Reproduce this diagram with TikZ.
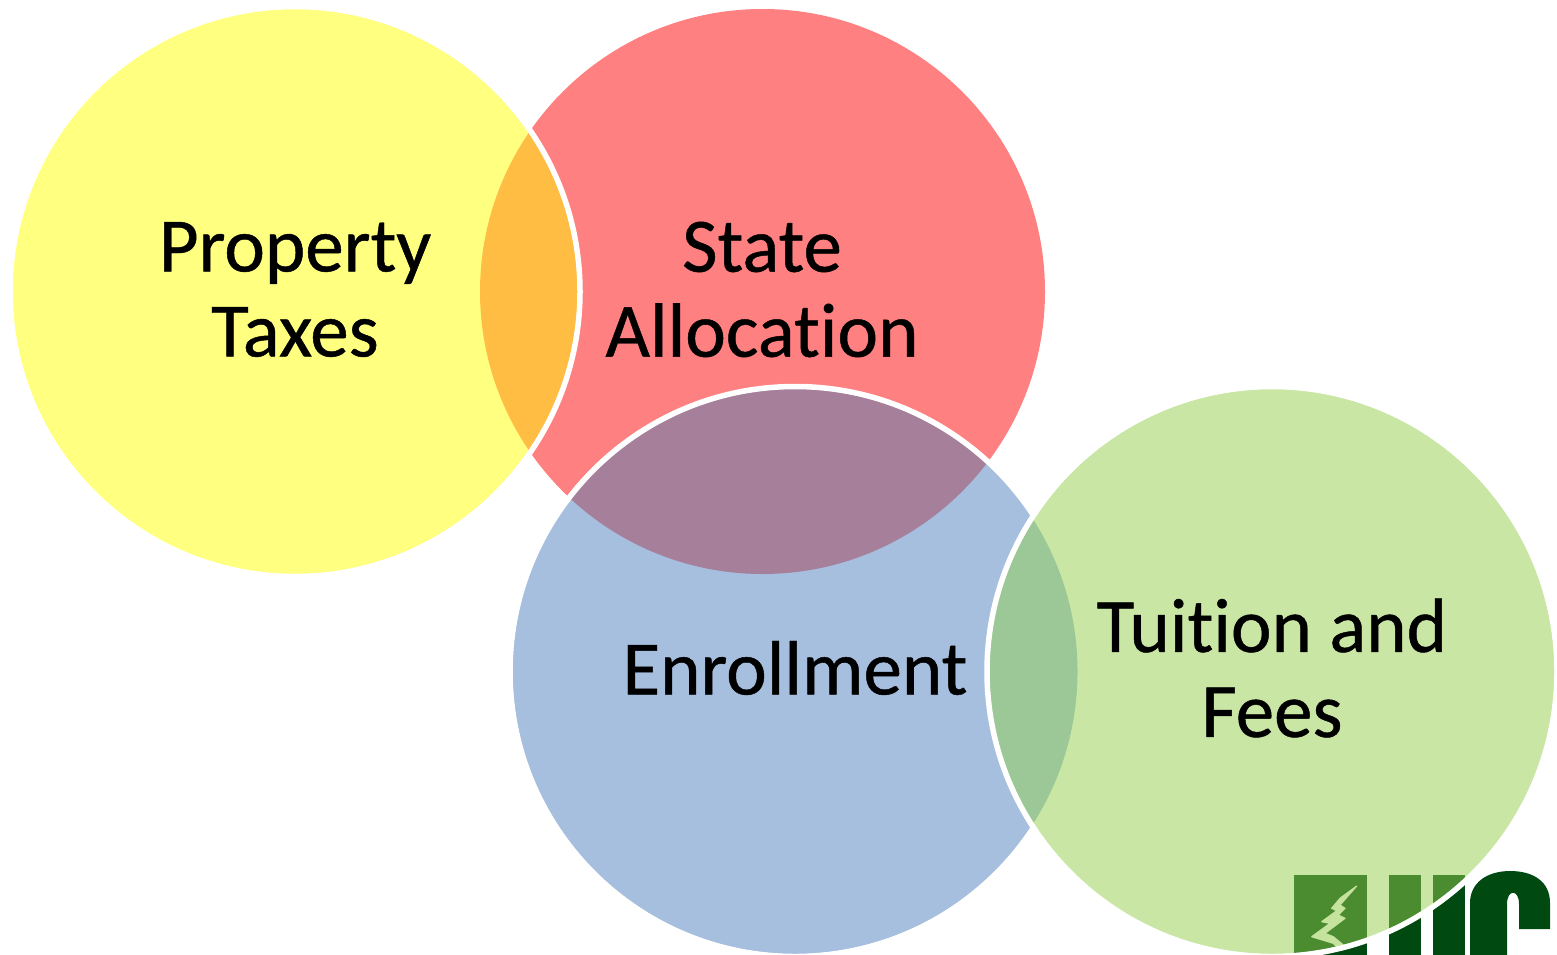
\documentclass[tikz,border=0pt]{standalone}
\usepackage{fontspec}
\setmainfont{Carlito}[Ligatures=NoCommon,FakeBold=0.6]
\definecolor{cyellow}{HTML}{FFFF80}
\definecolor{cred}{HTML}{FF8080}
\definecolor{cblue}{HTML}{A7BFDE}
\definecolor{cgreen}{HTML}{C9E6A5}
\definecolor{corange}{HTML}{FFBD44}
\definecolor{cpurple}{HTML}{A67F9B}
\definecolor{csage}{HTML}{9CC797}
\definecolor{logodark}{HTML}{004A12}
\definecolor{logomid}{HTML}{4A8C2F}
\definecolor{logobolt}{HTML}{C5E39C}
\tikzset{
  lbl/.style={font=\fontsize{77}{85}\selectfont,align=center,text=black,inner sep=0pt},
  ring/.style={draw=white,line width=5.5pt}
}
\def\R{282.5}
\newcommand{\logoshapes}[1]{%
  \fill[#1] (1294,875) rectangle (1367,960);
  \fill[#1] (1389,875) rectangle (1421,960);
  \fill[#1] (1433,875) rectangle (1465,960);
}
\begin{document}
\begin{tikzpicture}[x=1pt,y=-1pt]
\useasboundingbox (0,0) rectangle (1557,954);
\begin{scope}
\clip (0,0) rectangle (1557,954);
\coordinate (py) at (295,291.5);
\coordinate (sa) at (762.5,291.5);
\coordinate (en) at (795,671.5);
\coordinate (tf) at (1272,671.5);
% logo beneath the green disc
\logoshapes{logodark}
\path[fill=logodark]
  (1470,960) -- (1470,903) .. controls (1470,882) and (1488,871) .. (1510,871)
  .. controls (1534,871) and (1550,882) .. (1550,903) -- (1550,929) -- (1519,929)
  -- (1519,904) .. controls (1519,889) and (1507,889) .. (1507,904) -- (1507,960) -- cycle;
% discs and lenses
\fill[cred] (sa) circle (\R);
\fill[cyellow] (py) circle (\R);
\begin{scope}\clip (py) circle (\R); \fill[corange] (sa) circle (\R);\end{scope}
\draw[ring] (py) circle (\R+2.5);
\fill[cblue] (en) circle (\R);
\begin{scope}\clip (en) circle (\R); \fill[cpurple] (sa) circle (\R);\end{scope}
\draw[ring] (en) circle (\R+2.5);
\fill[cgreen] (tf) circle (\R);
\begin{scope}\clip (tf) circle (\R);
  \fill[csage] (en) circle (\R);
  \logoshapes{logomid}
  \filldraw[logobolt,line width=1.2pt,line join=round] (1356.7,886) -- (1340,898.3) -- (1331.7,908.3) -- (1336.7,910.7)
     -- (1321.7,921.7) -- (1330,923.3) -- (1311.7,936.7) -- (1333.3,943.3)
     -- (1340,950) -- (1343.3,945) -- (1333.3,936.7) -- (1325,933.3)
     -- (1345,918.3) -- (1338.3,915) -- (1345,908.3) -- (1340,905) -- cycle;
\end{scope}
\draw[ring] (tf) circle (\R+2.5);
\end{scope}
% labels
\node[lbl] (ptx) at (295,289.5) {Property\\Taxes};
\node[lbl] (sal) at (762,289.5) {State\\Allocation};
\node[lbl] (enr) at (795,668) {Enrollment};
\node[lbl] (tui) at (1272,668) {Tuition and\\Fees};
\end{tikzpicture}
\end{document}
